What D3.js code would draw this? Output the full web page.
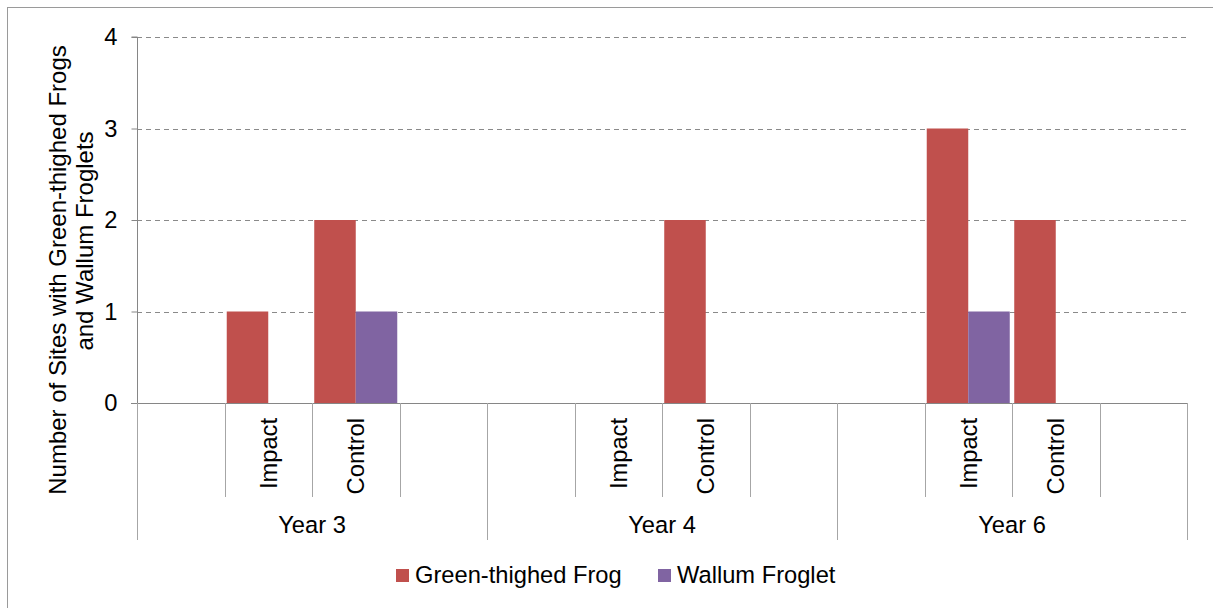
<!DOCTYPE html>
<html>
<head>
<meta charset="utf-8">
<script src="https://cdn.jsdelivr.net/npm/d3@7"></script>
<style>
  html, body { margin: 0; padding: 0; background: #fff; }
  svg { display: block; font-family: "Liberation Sans", Arial, sans-serif; }
</style>
</head>
<body>
<svg id="chart" width="1213" height="608"></svg>
<script>
// ---- data ----
const years = ["Year 3", "Year 4", "Year 6"];
const slots = ["", "Impact", "Control", ""];
const seriesNames = ["Green-thighed Frog", "Wallum Froglet"];
const seriesColors = ["#C0504D", "#8064A2"];
// values per year for [Impact, Control]
const greenThighed = [[1, 2], [0, 2], [3, 2]];
const wallum = [[0, 1], [0, 0], [1, 0]];
const yTicks = [0, 1, 2, 3, 4];
const yTitle = ["Number of Sites with Green-thighed Frogs", "and Wallum Froglets"];

(function () {
  // ---- build categories ----
  const cats = [];
  years.forEach((yr, yi) => slots.forEach((s, si) => cats.push({ key: yi + "-" + si, year: yr, yi, si, label: s })));
  const barData = [];
  years.forEach((yr, yi) => {
    ["Impact", "Control"].forEach((s, k) => {
      const key = yi + "-" + (k + 1);
      barData.push({ key, series: 0, value: greenThighed[yi][k] });
      barData.push({ key, series: 1, value: wallum[yi][k] });
    });
  });

  const svg = d3.select("#chart");
  const FS = 23.7;
  const pL = 137, pR = 1187, pT = 37, pB = 403;

  // outer border
  svg.append("rect").attr("x", 7.5).attr("y", 7.5).attr("width", 1215).attr("height", 615)
    .attr("fill", "none").attr("stroke", "#9a9a9a").attr("stroke-width", 1);

  const x = d3.scaleBand().domain(cats.map(c => c.key)).range([pL, pR]).padding(0);
  const x1 = d3.scaleBand().domain([0, 1]).range([0, x.bandwidth()]).paddingInner(0).paddingOuter(0.054);
  const y = d3.scaleLinear().domain([0, 4]).range([pB, pT]);

  // gridlines
  svg.append("g").selectAll("line").data(yTicks.filter(t => t > 0)).join("line")
    .attr("x1", pL).attr("x2", pR)
    .attr("y1", d => Math.round(y(d)) + 0.5).attr("y2", d => Math.round(y(d)) + 0.5)
    .attr("stroke", "#8a8a8a").attr("stroke-width", 1).attr("stroke-dasharray", "5,4");

  // bars
  svg.append("g").selectAll("rect").data(barData.filter(d => d.value > 0)).join("rect")
    .attr("x", d => x(d.key) + x1(d.series))
    .attr("width", x1.bandwidth())
    .attr("y", d => y(d.value))
    .attr("height", d => y(0) - y(d.value))
    .attr("fill", d => seriesColors[d.series]);

  // y axis
  const yAxis = d3.axisLeft(y).tickValues(yTicks).tickSize(6).tickPadding(14).tickFormat(d3.format("d"));
  const gy = svg.append("g").attr("transform", `translate(${pL + 0.5},0)`).call(yAxis);
  gy.select(".domain").attr("stroke", "#868686").attr("d", `M-6,${pT}H0V${pB}`);
  gy.selectAll(".tick line").attr("stroke", "#868686");
  gy.selectAll(".tick text").attr("font-size", FS).attr("fill", "#000")
    .attr("font-family", "Liberation Sans, Arial, sans-serif");

  // x axis line
  svg.append("line").attr("x1", pL - 6).attr("x2", pR)
    .attr("y1", pB + 0.5).attr("y2", pB + 0.5).attr("stroke", "#868686");

  // category separators
  const bounds = d3.range(cats.length + 1);
  svg.append("g").selectAll("line").data(bounds).join("line")
    .attr("x1", i => Math.round(pL + i * x.step()) + 0.5)
    .attr("x2", i => Math.round(pL + i * x.step()) + 0.5)
    .attr("y1", pB)
    .attr("y2", i => (i % 4 === 0 ? 540 : 497))
    .attr("stroke", "#a6a6a6").attr("stroke-width", 1);

  // sub labels
  svg.append("g").selectAll("text").data(cats.filter(c => c.label)).join("text")
    .attr("transform", c => `translate(${x(c.key) + x.bandwidth() / 2},418) rotate(-90)`)
    .attr("dy", "0.35em")
    .attr("text-anchor", "end")
    .attr("font-size", FS).attr("fill", "#000")
    .text(c => c.label);

  // year labels
  svg.append("g").selectAll("text").data(years).join("text")
    .attr("x", (d, i) => pL + (i * 4 + 2) * x.step())
    .attr("y", 533)
    .attr("text-anchor", "middle")
    .attr("font-size", FS).attr("fill", "#000")
    .text(d => d);

  // y title
  svg.append("text").attr("transform", "translate(66,270) rotate(-90)")
    .attr("text-anchor", "middle").attr("font-size", 24).attr("fill", "#000").text(yTitle[0]);
  svg.append("text").attr("transform", "translate(93,241) rotate(-90)")
    .attr("text-anchor", "middle").attr("font-size", 24).attr("fill", "#000").text(yTitle[1]);

  // legend
  const legendX = [396, 658];
  const lg = svg.append("g").selectAll("g").data(seriesNames).join("g")
    .attr("transform", (d, i) => `translate(${legendX[i]},569)`);
  lg.append("rect").attr("width", 13).attr("height", 13).attr("fill", (d, i) => seriesColors[i]);
  lg.append("text").attr("x", 19).attr("y", 14).attr("font-size", FS).attr("fill", "#000").text(d => d);
})();
</script>
</body>
</html>
